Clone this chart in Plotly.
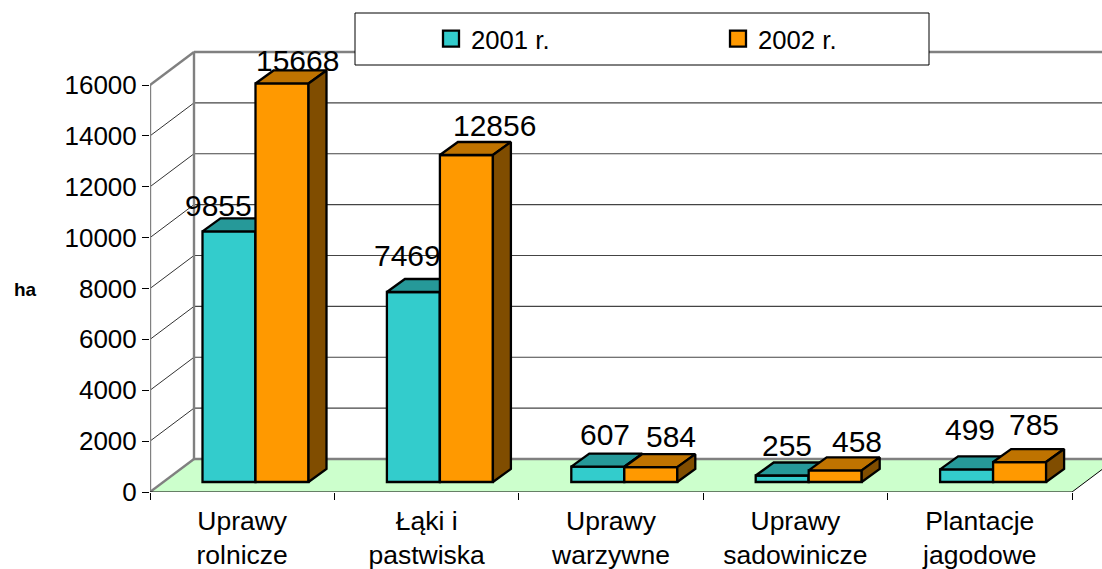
import plotly.graph_objects as go

categories = ["Uprawy<br>rolnicze", "Łąki i<br>pastwiska", "Uprawy<br>warzywne", "Uprawy<br>sadowinicze", "Plantacje<br>jagodowe"]
values_2001 = [9855, 7469, 607, 255, 499]
values_2002 = [15668, 12856, 584, 458, 785]
y_ticks = [0, 2000, 4000, 6000, 8000, 10000, 12000, 14000, 16000]
names = ["2001 r.", "2002 r."]

# label nudges in pixels, relative to the top centre of each bar
shift_2001 = [(-11, 26), (-6, 37), (7, 32), (5, 30), (3, 40)]
shift_2002 = [(15, 23), (28, 29), (20, 31), (22, 29), (14, 38)]

W, H = 1102, 569
ML, MT, MB = 150, 30, 77
PLOT_W, PLOT_H = W - ML, H - MT - MB
CAT_PX = 184.4
PX_Y = 407 / 16000          # pixels per hectare
ux = 1 / CAT_PX             # x units per pixel
uy = 1 / PX_Y               # y units per pixel
FONT = "Liberation Sans, Arial, sans-serif"

WALL_DX, WALL_DY = 44 * ux, 33 * uy
BAR_DX, BAR_DY = 18 * ux, 13 * uy
BASE = 10 * uy
BAR_W = 53 * ux
X_MIN, X_MAX = -0.5, len(categories) - 0.5
BAR_LEFT = [-39.7 * ux, 13.3 * ux]   # left edge of each series, from category centre
OUTLINE = 2.3

traces = []


def line(xs, ys, color, width, z=0):
    return go.Scatter(x=xs, y=ys, mode="lines", line=dict(color=color, width=width), hoverinfo="skip",
                      showlegend=False, cliponaxis=False, zorder=z)


def poly(xs, ys, fill, z, color="black", width=OUTLINE):
    return go.Scatter(x=xs, y=ys, mode="lines", fill="toself", fillcolor=fill, line=dict(color=color, width=width),
                      hoverinfo="skip", showlegend=False, cliponaxis=False, zorder=z)


# floor
traces.append(poly([X_MIN, X_MIN + WALL_DX, X_MAX + WALL_DX, X_MAX, X_MIN], [0, WALL_DY, WALL_DY, 0, 0],
                   "#CCFFCC", 0, color="rgba(0,0,0,0)", width=0))

# grid on back wall and left wall
gx, gy, lx, ly = [], [], [], []
for t in y_ticks[1:]:
    gx += [X_MIN + WALL_DX, X_MAX + WALL_DX, None]
    gy += [t + WALL_DY, t + WALL_DY, None]
    lx += [X_MIN, X_MIN + WALL_DX, None]
    ly += [t, t + WALL_DY, None]
traces.append(line(gx, gy, "#444444", 1.2))
traces.append(line(lx, ly, "#333333", 1))
# wall edges
traces.append(line([X_MIN + WALL_DX, X_MAX + WALL_DX], [WALL_DY, WALL_DY], "#808080", 2.4))
traces.append(line([X_MIN + WALL_DX, X_MAX + WALL_DX], [y_ticks[-1] + WALL_DY] * 2, "#808080", 2.4))
traces.append(line([X_MIN + WALL_DX, X_MIN + WALL_DX], [WALL_DY, y_ticks[-1] + WALL_DY], "#808080", 2.4))
traces.append(line([X_MIN, X_MIN], [0, y_ticks[-1]], "#808080", 2.4))
traces.append(line([X_MIN, X_MIN + WALL_DX], [0, WALL_DY], "#808080", 2.4))
traces.append(line([X_MIN, X_MIN + WALL_DX], [y_ticks[-1], y_ticks[-1] + WALL_DY], "#808080", 2.4))
traces.append(line([X_MAX, X_MAX + WALL_DX], [0, WALL_DY], "black", 1))
traces.append(line([X_MIN, X_MAX], [0, 0], "black", 1.2))

series = [
    (values_2001, BAR_LEFT[0], "#33CCCC", "#269999", "#1A6666", 1),
    (values_2002, BAR_LEFT[1], "#FF9900", "#BF7300", "#804D00", 3),
]
for vals, left, front, top, side, z in series:
    centres = [i + left + BAR_W / 2 for i in range(len(vals))]
    traces.append(go.Bar(x=centres, y=vals, base=BASE, width=BAR_W, marker=dict(color=front, line=dict(color="black", width=OUTLINE)),
                         hoverinfo="skip", showlegend=False, zorder=z))
    tx, ty, sx, sy = [], [], [], []
    for c, v in zip(centres, vals):
        l, r, t, b = c - BAR_W / 2, c + BAR_W / 2, v + BASE, BASE
        tx += [l, l + BAR_DX, r + BAR_DX, r, l, None]
        ty += [t, t + BAR_DY, t + BAR_DY, t, t, None]
        sx += [r, r + BAR_DX, r + BAR_DX, r, r, None]
        sy += [t, t + BAR_DY, b + BAR_DY, b, t, None]
    traces.append(poly(tx, ty, top, z + 1))
    traces.append(poly(sx, sy, side, z + 1))

# legend keys
for name, col in zip(names, ["#33CCCC", "#FF9900"]):
    traces.append(go.Scatter(x=[None], y=[None], mode="markers", name=name,
                             marker=dict(symbol="square", size=16, color=col, line=dict(color="black", width=2.3))))

fig = go.Figure(traces)

annotations = []
for vals, left, shifts in [(values_2001, BAR_LEFT[0], shift_2001), (values_2002, BAR_LEFT[1], shift_2002)]:
    for i, v in enumerate(vals):
        annotations.append(dict(x=i + left + BAR_W / 2, y=v + BASE, text=str(v), showarrow=False,
                                xshift=shifts[i][0], yshift=shifts[i][1], xanchor="center", yanchor="middle",
                                font=dict(family=FONT, size=30, color="black")))
annotations.append(dict(xref="paper", yref="paper", x=(25 - ML) / PLOT_W, y=(H - MB - 289) / PLOT_H, text="<b>ha</b>",
                        showarrow=False, xanchor="center", yanchor="middle", font=dict(family=FONT, size=19, color="black")))


def px(v):
    return (v - ML) / PLOT_W


def py(v):
    return (H - MB - v) / PLOT_H


fig.update_layout(
    width=W, height=H, margin=dict(l=ML, r=0, t=MT, b=MB, autoexpand=False),
    paper_bgcolor="white", plot_bgcolor="white", barmode="overlay",
    font=dict(family=FONT, color="black"),
    xaxis=dict(range=[X_MIN, X_MIN + PLOT_W * ux], tickmode="array", tickvals=list(range(len(categories))),
               ticktext=categories, ticks="", showgrid=False, zeroline=False, showline=False, ticklabelstandoff=10,
               tickfont=dict(family=FONT, size=26.5, color="black"),
               minor=dict(ticks="outside", ticklen=7, tickcolor="black", tickwidth=1, tickmode="array",
                          tickvals=[i - 0.5 for i in range(len(categories) + 1)], showgrid=False)),
    yaxis=dict(range=[0, PLOT_H * uy], tickmode="array", tickvals=y_ticks, tickformat="d", ticks="outside", ticklen=7, tickcolor="black",
               tickwidth=1, showgrid=False, zeroline=False, showline=False,
               tickfont=dict(family=FONT, size=26, color="black")),
    legend=dict(orientation="h", x=px(431), y=py(39), xanchor="left", yanchor="middle", bgcolor="rgba(0,0,0,0)",
                borderwidth=0, entrywidthmode="pixels", entrywidth=242, itemclick=False, itemdoubleclick=False,
                font=dict(family=FONT, size=25.7, color="black")),
    shapes=[dict(type="rect", xref="paper", yref="paper", x0=px(355), x1=px(929), y0=py(65), y1=py(13),
                 fillcolor="white", line=dict(color="black", width=1), layer="above")],
    annotations=annotations,
)
fig.write_html("out.html", config=dict(displayModeBar=False),
               post_script="document.body.style.margin='0';document.body.style.overflow='hidden';")
